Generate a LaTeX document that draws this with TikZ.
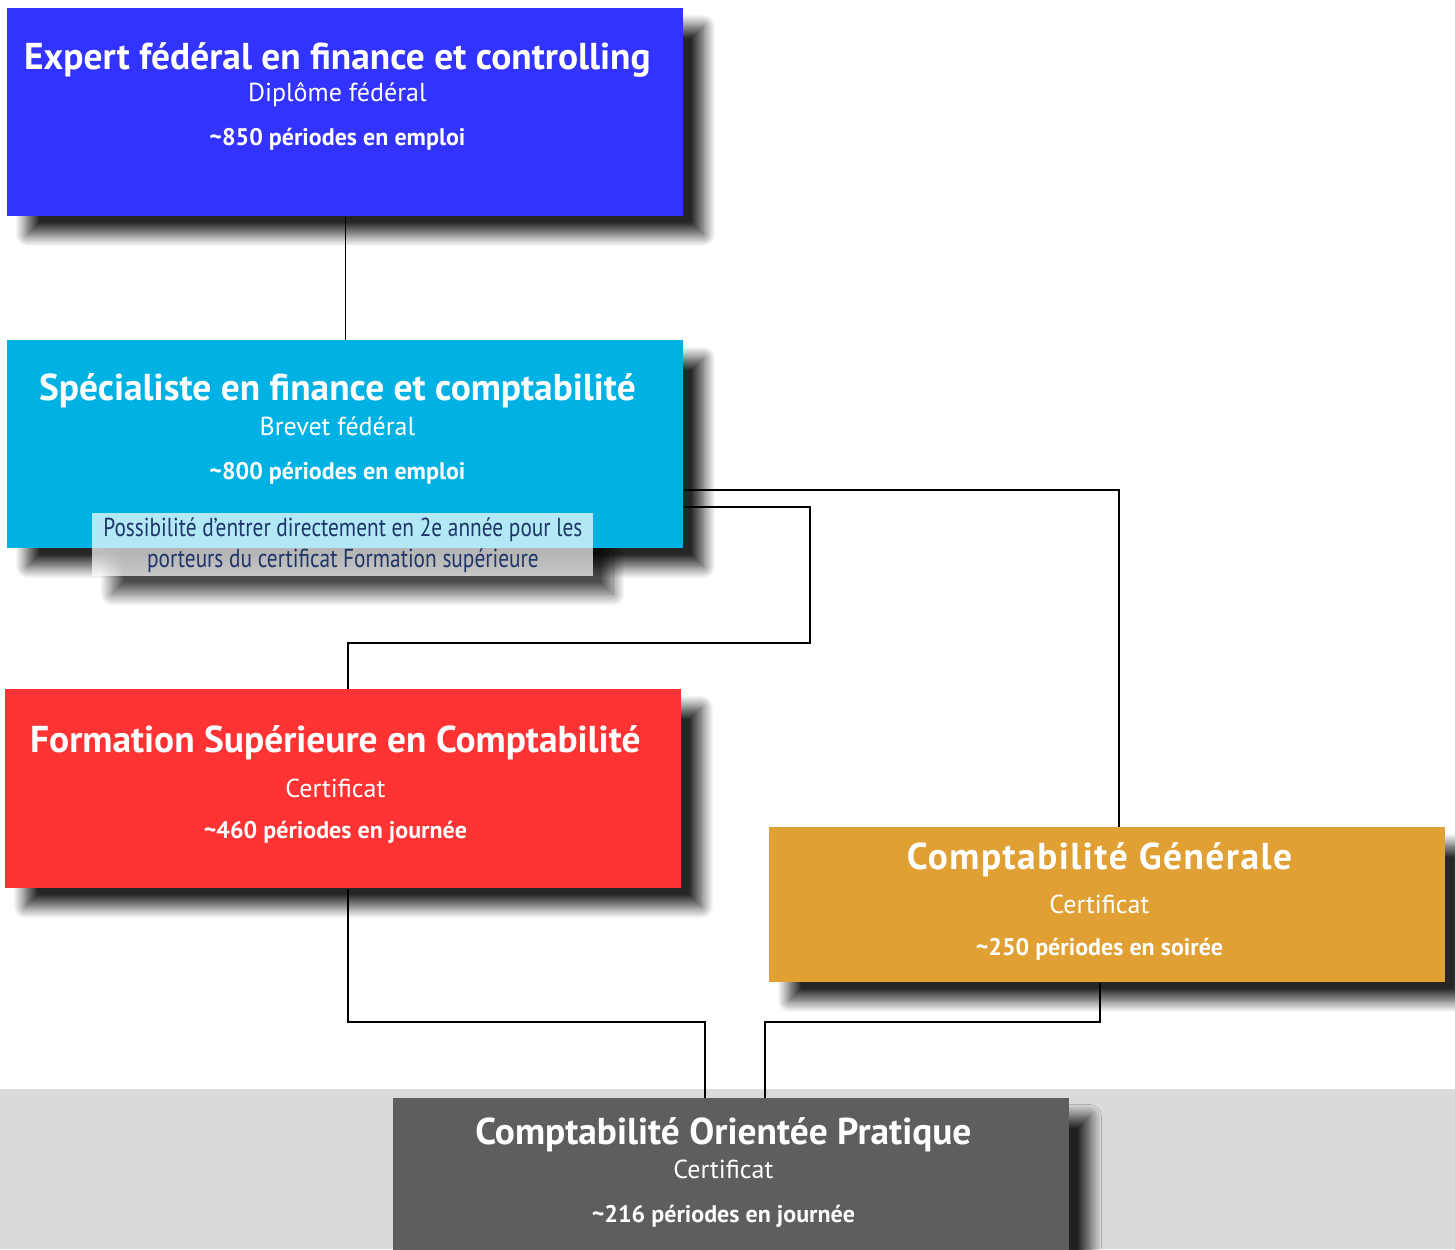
\documentclass[tikz,border=0pt]{standalone}
\usepackage{fontspec}
\setmainfont{PT Sans}
\newfontfamily\notefont{PT Sans}[FakeStretch=0.82]
\usetikzlibrary{positioning,shadows.blur}

\definecolor{expblue}{HTML}{3333FF}
\definecolor{specblue}{HTML}{00B2E3}
\definecolor{formred}{HTML}{FF3333}
\definecolor{cggold}{HTML}{E0A033}
\definecolor{copgray}{HTML}{5E5E5E}
\definecolor{bandgray}{HTML}{D9DADC}
\definecolor{notenavy}{HTML}{1D3567}

\newcommand{\boxtitle}[1]{{\fontsize{18.7}{22}\selectfont\bfseries #1}}
\newcommand{\boxsub}[1]{{\fontsize{13}{16}\selectfont #1}}
\newcommand{\boxhours}[1]{{\fontsize{12}{14}\selectfont\bfseries\textasciitilde #1}}

\begin{document}
\begin{tikzpicture}[x=0.5pt, y=-0.5pt,
    box/.style={rectangle, anchor=north west, minimum width=338pt, inner sep=0pt,
        blur shadow={shadow xshift=10pt, shadow yshift=-9pt, shadow blur radius=6pt,
            shadow blur steps=20, shadow opacity=85}},
    boxtext/.style={align=center, text=white, inner sep=0pt, font=\fontsize{13}{16}\selectfont},
    link/.style={draw=black, line width=0.6pt}]
    \useasboundingbox (0,0) rectangle (1455,1249);
    \fill[bandgray] (0,1089) rectangle (1455,1249);

    % top
    \node [box, fill=expblue, minimum height=104pt] (expert) at (7,8) {};
    \node [boxtext, below=17pt of expert.north, xshift=-4pt] (expertT)
        {\boxtitle{Expert fédéral en finance et controlling}\\
         \boxsub{Diplôme fédéral}\\[6pt]
         \boxhours{850 périodes en emploi}};

    % brevet
    \path [blur shadow={shadow xshift=10pt, shadow yshift=-9pt, shadow blur radius=6pt,
            shadow blur steps=20, shadow opacity=70}]
        (92,513) rectangle (593,576);
    \node [box, fill=specblue, minimum height=104pt] (spec) at (7,340) {};
    \node [boxtext, below=16.5pt of spec.north, xshift=-4pt] (specT)
        {\boxtitle{Spécialiste en finance et comptabilité}\\[1.5pt]
         \boxsub{Brevet fédéral}\\[6pt]
         \boxhours{800 périodes en emploi}};
    \node [anchor=north west, minimum width=250.5pt, minimum height=31.5pt, inner sep=0pt,
        fill=white, fill opacity=0.7, text opacity=1, text=notenavy, align=center,
        font=\notefont\fontsize{13}{15.5}\selectfont] (note) at (92,513)
        {Possibilité d’entrer directement en 2e année pour les\\
         porteurs du certificat Formation supérieure};

    % certificats
    \node [box, fill=formred, minimum height=99.5pt] (form) at (5,689) {};
    \node [boxtext, below=18pt of form.north, xshift=-4pt] (formT)
        {\boxtitle{Formation Supérieure en Comptabilité}\\[6.5pt]
         \boxsub{Certificat}\\[4.5pt]
         \boxhours{460 périodes en journée}};

    \node [box, fill=cggold, minimum height=77.5pt] (cg) at (769,827) {};
    \node [boxtext, below=7.5pt of cg.north, xshift=-4pt] (cgT)
        {\boxtitle{\addfontfeature{LetterSpace=4}Comptabilité Générale}\\[6pt]
         \boxsub{Certificat}\\[5pt]
         \boxhours{250 périodes en soirée}};

    \node [box, fill=copgray, minimum height=84pt] (cop) at (393,1098) {};
    \node [boxtext, below=9.5pt of cop.north, xshift=-4pt] (copT)
        {\boxtitle{Comptabilité Orientée Pratique}\\[1pt]
         \boxsub{Certificat}\\[6pt]
         \boxhours{216 périodes en journée}};

    % liens
    \coordinate (cgJoin) at (1119,490);
    \coordinate (formA) at (810,507);
    \coordinate (formB) at (810,643);
    \coordinate (formC) at (348,643);
    \coordinate (copA) at (348,1022);
    \coordinate (copB) at (705,1022);
    \coordinate (copC) at (1100,1022);
    \coordinate (copD) at (765,1022);

    \draw [link] (expert.south) -- (spec.north);
    \draw [link] (spec.east |- cgJoin) -- (cgJoin) -- (cg.north -| cgJoin);
    \draw [link] (spec.east |- formA) -- (formA) -- (formB) -- (formC) -- (form.north -| formC);
    \draw [link] (form.south -| copA) -- (copA) -- (copB) -- (cop.north -| copB);
    \draw [link] (cg.south -| copC) -- (copC) -- (copD) -- (cop.north -| copD);
\end{tikzpicture}
\end{document}
